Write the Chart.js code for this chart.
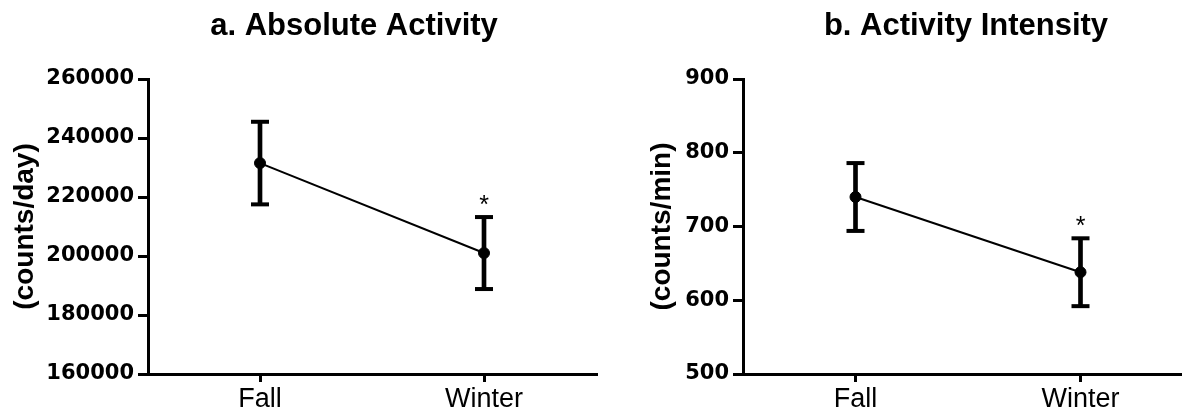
<!DOCTYPE html>
<html>
<head>
<meta charset="utf-8">
<title>Activity</title>
<script src="https://cdn.jsdelivr.net/npm/chart.js@4.4.1/dist/chart.umd.min.js"></script>
<style>
  html, body { margin: 0; padding: 0; background: #fff; }
  body { width: 1182px; height: 414px; overflow: hidden; position: relative; }
  .panel { position: absolute; top: 0; height: 430px; }
  #panelA { left: 0; width: 609px; }
  #panelB { left: 600px; width: 606px; }
</style>
</head>
<body>
<div class="panel" id="panelA"><canvas id="chartA"></canvas></div>
<div class="panel" id="panelB"><canvas id="chartB"></canvas></div>
<script>
// data (mean +/- SEM)
var seasons = ['Fall', 'Winter'];
var absoluteMean = [231500, 201000];
var absoluteSem = [14000, 12200];
var intensityMean = [740, 638];
var intensitySem = [46, 46];
var significance = ['', '*'];
// axis min, max, step
var absoluteRange = [160000, 260000, 20000];
var intensityRange = [500, 900, 100];

Chart.defaults.font.family = '"Liberation Sans", Arial, sans-serif';
Chart.defaults.color = '#000';

function makeChart(canvasId, cfg) {
  var highs = cfg.mean.map(function(m, i) { return m + cfg.sem[i]; });
  var lows = cfg.mean.map(function(m, i) { return m - cfg.sem[i]; });
  var bars = lows.map(function(lo, i) { return [lo, highs[i]]; });

  // panel heading
  var panelTitle = {
    id: 'panelTitle',
    afterDraw: function(chart) {
      var ctx = chart.ctx, area = chart.chartArea;
      ctx.save();
      ctx.font = 'bold 31px "Liberation Sans", Arial, sans-serif';
      ctx.fillStyle = '#000';
      ctx.textAlign = 'center';
      ctx.textBaseline = 'alphabetic';
      ctx.fillText(cfg.title, (area.left + area.right) / 2 + cfg.shift, 35);
      ctx.restore();
    }
  };

  // significance stars above the error bars
  var sigStars = {
    id: 'sigStars',
    afterDatasetsDraw: function(chart) {
      var ctx = chart.ctx, xs = chart.scales.x, ys = chart.scales.y;
      ctx.save();
      ctx.font = '25px "Liberation Sans", Arial, sans-serif';
      ctx.fillStyle = '#000';
      ctx.textAlign = 'center';
      ctx.textBaseline = 'alphabetic';
      significance.forEach(function(mark, i) {
        if (!mark) return;
        ctx.fillText(mark, xs.getPixelForValue(i), ys.getPixelForValue(highs[i]) - 4);
      });
      ctx.restore();
    }
  };

  return new Chart(document.getElementById(canvasId), {
    type: 'line',
    data: {
      labels: seasons,
      datasets: [
        {
          type: 'line', data: cfg.mean, borderColor: '#000', borderWidth: 2,
          pointRadius: 5.5, pointBackgroundColor: '#000', pointBorderColor: '#000',
          pointBorderWidth: 1, order: 0
        },
        {
          type: 'line', data: highs, showLine: false, pointStyle: 'line',
          pointRadius: 9, pointBorderWidth: 4, pointBorderColor: '#000', order: 1
        },
        {
          type: 'line', data: lows, showLine: false, pointStyle: 'line',
          pointRadius: 9, pointBorderWidth: 4, pointBorderColor: '#000', order: 1
        },
        {
          type: 'bar', data: bars, backgroundColor: '#000', barThickness: 4, order: 2
        }
      ]
    },
    options: {
      responsive: true,
      maintainAspectRatio: false,
      animation: false,
      events: [],
      layout: { padding: { top: 79, left: cfg.padLeft, right: cfg.padRight, bottom: 0 } },
      plugins: {
        legend: { display: false },
        tooltip: { enabled: false },
        title: { display: false }
      },
      scales: {
        x: {
          type: 'category',
          offset: true,
          grid: { display: true, drawOnChartArea: false, drawTicks: true, tickLength: 8, color: '#000', lineWidth: 3, offset: false },
          border: { display: true, color: '#000', width: 3 },
          ticks: { font: { size: 27 }, color: '#000', padding: 1, maxRotation: 0 },
          afterFit: function(s) { s.height = 56; }
        },
        y: {
          min: cfg.range[0],
          max: cfg.range[1],
          ticks: {
            stepSize: cfg.range[2],
            font: { family: '"DejaVu Sans", sans-serif', size: 21, weight: 'bold' },
            color: '#000',
            padding: 4,
            callback: function(v) { return String(v); }
          },
          grid: { display: true, drawOnChartArea: false, drawTicks: true, tickLength: 10, color: '#000', lineWidth: 3 },
          border: { display: true, color: '#000', width: 3 },
          title: {
            display: true,
            text: cfg.yTitle,
            color: '#000',
            font: { size: 28, weight: 'bold' },
            padding: { top: 8, bottom: 0 }
          },
          afterFit: function(s) { s.width = cfg.yWidth; }
        }
      }
    },
    plugins: [panelTitle, sigStars]
  });
}

makeChart('chartA', {
  title: 'a. Absolute Activity', shift: -18,
  mean: absoluteMean, sem: absoluteSem, range: absoluteRange,
  yTitle: '(counts/day)', yWidth: 148, padLeft: 0, padRight: 3
});

makeChart('chartB', {
  title: 'b. Activity Intensity', shift: -2,
  mean: intensityMean, sem: intensitySem, range: intensityRange,
  yTitle: '(counts/min)', yWidth: 106, padLeft: 37, padRight: 9
});
</script>
</body>
</html>
